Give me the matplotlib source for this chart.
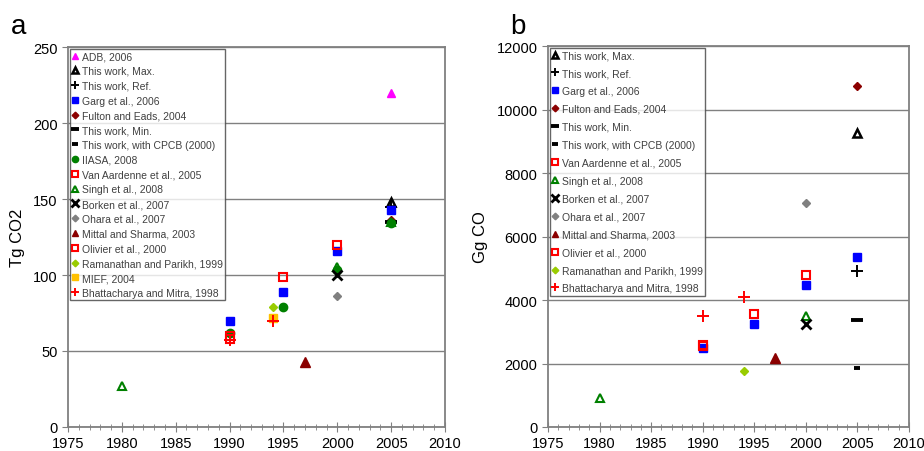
import matplotlib
matplotlib.use('Agg')
import matplotlib.pyplot as plt
from matplotlib.ticker import MultipleLocator

plt.rcParams['font.family'] = ['Liberation Sans', 'DejaVu Sans']

# Legend labels (panel a has all of them, panel b leaves out ADB, IIASA, MIEF)
labels = ['ADB, 2006', 'This work, Max.', 'This work, Ref.', 'Garg et al., 2006',
          'Fulton and Eads, 2004', 'This work, Min.', 'This work, with CPCB (2000)',
          'IIASA, 2008', 'Van Aardenne et al., 2005', 'Singh et al., 2008',
          'Borken et al., 2007', 'Ohara et al., 2007', 'Mittal and Sharma, 2003',
          'Olivier et al., 2000', 'Ramanathan and Parikh, 1999', 'MIEF, 2004',
          'Bhattacharya and Mitra, 1998']

# ---- panel a: Tg CO2 ----
adb_yr_a, adb_a = [2005], [220]
max_yr_a, max_a = [2005], [148]
ref_yr_a, ref_a = [2005], [145]
garg_yr_a, garg_a = [1990, 1995, 2000, 2005], [70, 89, 116, 143]
fulton_yr_a, fulton_a = [2005], [136]
min_yr_a, min_a = [2005], [135]
cpcb_yr_a, cpcb_a = [], []
iiasa_yr_a, iiasa_a = [1990, 1995, 2000, 2005], [62, 79, 103, 134]
vanaard_yr_a, vanaard_a = [1990, 1995, 2000], [60, 99, 120]
singh_yr_a, singh_a = [1980, 2000, 2005], [27, 105, 135]
borken_yr_a, borken_a = [2000], [100]
ohara_yr_a, ohara_a = [2000], [86]
mittal_yr_a, mittal_a = [1997], [43]
olivier_yr_a, olivier_a = [1990], [58]
raman_yr_a, raman_a = [1994], [79]
mief_yr_a, mief_a = [1994], [72]
bhatt_yr_a, bhatt_a = [1990, 1994], [57, 70]

# ---- panel b: Gg CO ----
max_yr_b, max_b = [2005], [9250]
ref_yr_b, ref_b = [2005], [4920]
garg_yr_b, garg_b = [1990, 1995, 2000, 2005], [2480, 3240, 4475, 5340]
fulton_yr_b, fulton_b = [2005], [10730]
min_yr_b, min_b = [2005], [3360]
cpcb_yr_b, cpcb_b = [2005], [1845]
vanaard_yr_b, vanaard_b = [1990, 1995, 2000], [2590, 3560, 4790]
singh_yr_b, singh_b = [1980, 2000], [900, 3500]
borken_yr_b, borken_b = [2000], [3240]
ohara_yr_b, ohara_b = [2000], [7065]
mittal_yr_b, mittal_b = [1997], [2170]
olivier_yr_b, olivier_b = [1990], [2560]
raman_yr_b, raman_b = [1994], [1770]
bhatt_yr_b, bhatt_b = [1990, 1994], [3500, 4110]

RED = '#FF0000'
DKRED = '#8B0000'
GREEN = '#008000'
styles = {
    'ADB, 2006': dict(marker='^', color='#FF00FF', ms=6),
    'This work, Max.': dict(marker='^', mfc='none', mec='black', mew=1.8, ms=6),
    'This work, Ref.': dict(marker='+', color='black', mew=1.4, ms=8),
    'Garg et al., 2006': dict(marker='s', color='#0000FF', ms=6),
    'Fulton and Eads, 2004': dict(marker='D', color=DKRED, ms=4.5),
    'This work, Min.': dict(marker='_', color='black', mew=2.8, ms=8),
    'This work, with CPCB (2000)': dict(marker='_', color='black', mew=2.8, ms=5),
    'IIASA, 2008': dict(marker='o', color=GREEN, ms=6),
    'Van Aardenne et al., 2005': dict(marker='s', mfc='none', mec=RED, mew=1.5, ms=6),
    'Singh et al., 2008': dict(marker='^', mfc='none', mec=GREEN, mew=1.5, ms=6),
    'Borken et al., 2007': dict(marker='x', color='black', mew=2, ms=7),
    'Ohara et al., 2007': dict(marker='D', color='#808080', ms=4.5),
    'Mittal and Sharma, 2003': dict(marker='^', color=DKRED, ms=6.5),
    'Olivier et al., 2000': dict(marker='s', mfc='none', mec=RED, mew=1.5, ms=6),
    'Ramanathan and Parikh, 1999': dict(marker='D', color='#99CC00', ms=4.5),
    'MIEF, 2004': dict(marker='s', color='#FFC000', ms=6),
    'Bhattacharya and Mitra, 1998': dict(marker='+', color=RED, mew=1.4, ms=8),
}

series_a = [
    (adb_yr_a, adb_a), (max_yr_a, max_a), (ref_yr_a, ref_a), (garg_yr_a, garg_a),
    (fulton_yr_a, fulton_a), (min_yr_a, min_a), (cpcb_yr_a, cpcb_a),
    (iiasa_yr_a, iiasa_a), (vanaard_yr_a, vanaard_a), (singh_yr_a, singh_a),
    (borken_yr_a, borken_a), (ohara_yr_a, ohara_a), (mittal_yr_a, mittal_a),
    (olivier_yr_a, olivier_a), (raman_yr_a, raman_a), (mief_yr_a, mief_a),
    (bhatt_yr_a, bhatt_a),
]
series_b = {
    'This work, Max.': (max_yr_b, max_b), 'This work, Ref.': (ref_yr_b, ref_b),
    'Garg et al., 2006': (garg_yr_b, garg_b), 'Fulton and Eads, 2004': (fulton_yr_b, fulton_b),
    'This work, Min.': (min_yr_b, min_b), 'This work, with CPCB (2000)': (cpcb_yr_b, cpcb_b),
    'Van Aardenne et al., 2005': (vanaard_yr_b, vanaard_b), 'Singh et al., 2008': (singh_yr_b, singh_b),
    'Borken et al., 2007': (borken_yr_b, borken_b), 'Ohara et al., 2007': (ohara_yr_b, ohara_b),
    'Mittal and Sharma, 2003': (mittal_yr_b, mittal_b), 'Olivier et al., 2000': (olivier_yr_b, olivier_b),
    'Ramanathan and Parikh, 1999': (raman_yr_b, raman_b),
    'Bhattacharya and Mitra, 1998': (bhatt_yr_b, bhatt_b),
}

fig = plt.figure(figsize=(9.24, 4.52), dpi=100)
ax_a = fig.add_axes([0.0736, 0.0531, 0.408, 0.8407])
ax_b = fig.add_axes([0.5931, 0.0531, 0.3907, 0.8429])

GRAY = '#808080'


def style_axes(ax, ymax, ystep, ylabel):
    ax.set_xlim(1975, 2010)
    ax.set_ylim(0, ymax)
    ax.xaxis.set_major_locator(MultipleLocator(5))
    ax.xaxis.set_minor_locator(MultipleLocator(1))
    ax.yaxis.set_major_locator(MultipleLocator(ystep))
    ax.grid(axis='y', color=GRAY, lw=1.0)
    ax.set_axisbelow(True)
    for s in ax.spines.values():
        s.set_color(GRAY)
        s.set_linewidth(1.3)
    ax.tick_params(axis='x', which='major', direction='inout', length=7, color=GRAY,
                   labelsize=10.5, pad=3)
    ax.tick_params(axis='x', which='minor', direction='inout', length=5, color=GRAY)
    ax.tick_params(axis='y', direction='out', length=4, color=GRAY, labelsize=10.5)
    ax.set_ylabel(ylabel, fontsize=12, labelpad=6)


handles_a = []
for lab, (xs, ys) in zip(labels, series_a):
    h, = ax_a.plot(xs, ys, ls='none', label=lab, **styles[lab])
    handles_a.append(h)
style_axes(ax_a, 250, 50, 'Tg CO2')

handles_b = []
for lab in labels:
    if lab not in series_b:
        continue
    xs, ys = series_b[lab]
    h, = ax_b.plot(xs, ys, ls='none', label=lab, **styles[lab])
    handles_b.append(h)
style_axes(ax_b, 12000, 2000, 'Gg CO')

for ax, hs, sp in [(ax_a, handles_a, 0.46), (ax_b, handles_b, 0.76)]:
    leg = ax.legend(handles=hs, loc='upper left', numpoints=1, fontsize=7.5,
                    frameon=True, fancybox=False, borderaxespad=0.15,
                    handlelength=0.6, handletextpad=0.3, labelspacing=sp,
                    borderpad=0.25, markerscale=0.75)
    leg.get_frame().set_edgecolor('#404040')
    leg.get_frame().set_linewidth(1.0)
    for t in leg.get_texts():
        t.set_color('#404040')

fig.text(0.012, 0.925, 'a', fontsize=20)
fig.text(0.552, 0.925, 'b', fontsize=20)

fig.savefig('out.png', dpi=100)
plt.close(fig)
print("Saved out.png")
